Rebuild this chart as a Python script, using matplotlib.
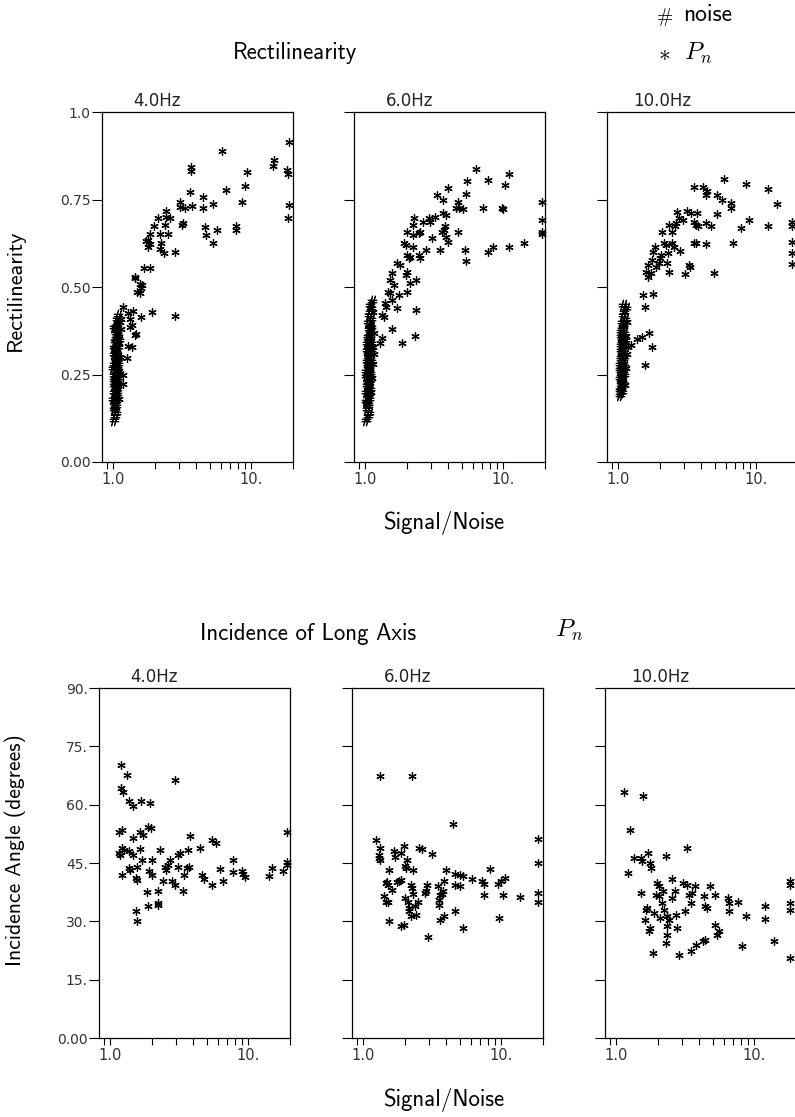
import matplotlib
matplotlib.use("Agg")
import matplotlib.pyplot as plt
from matplotlib.ticker import FixedLocator, NullFormatter

plt.rcParams['mathtext.fontset'] = 'cm'

freqs = ["4.0Hz", "6.0Hz", "10.0Hz"]
x_ticks = [1.0, 10.0]
x_tick_labels = ["1.0", "10."]
x_minor = [0.9, 2, 3, 4, 5, 6, 7, 8, 9, 20]
rect_ticks = [0.0, 0.25, 0.5, 0.75, 1.0]
rect_tick_labels = ["0.00", "0.25", "0.50", "0.75", "1.0"]
inc_ticks = [0, 15, 30, 45, 60, 75, 90]
inc_tick_labels = ["0.00", "15.", "30.", "45.", "60.", "75.", "90."]

# rectilinearity, noise windows (#)
rect_noise_4 = [(1.01,0.12),(1.03,0.13),(1.02,0.15),(1.05,0.14),(1.04,0.16),(1.02,0.17),(1.06,0.18),
                (1.03,0.19),(1.01,0.20),(1.05,0.20),(1.07,0.21),(1.02,0.22),(1.04,0.23),(1.06,0.23),
                (1.03,0.24),(1.08,0.25),(1.01,0.25),(1.05,0.26),(1.03,0.27),(1.07,0.27),(1.02,0.28),
                (1.05,0.29),(1.08,0.30),(1.03,0.30),(1.06,0.31),(1.04,0.32),(1.09,0.33),(1.02,0.33),
                (1.06,0.34),(1.04,0.35),(1.08,0.36),(1.05,0.37),(1.07,0.38),(1.04,0.39),(1.09,0.40),
                (1.06,0.41),(1.08,0.42),(1.05,0.215),(1.07,0.245),(1.04,0.285),(1.06,0.195),
                (1.03,0.345),(1.09,0.28),(1.02,0.31),(1.07,0.225),(1.00,0.18),(1.01,0.235),
                (1.00,0.27),(1.03,0.325),(1.05,0.355),(1.02,0.385),(1.07,0.33),(1.09,0.24),
                (1.04,0.175),(1.06,0.265),(1.08,0.295),(1.03,0.155),(1.06,0.375),(1.10,0.35)]
rect_noise_6 = [(1.02,0.12),(1.04,0.13),(1.03,0.15),(1.06,0.14),(1.05,0.16),(1.03,0.17),(1.07,0.18),
                (1.04,0.19),(1.02,0.20),(1.06,0.21),(1.08,0.21),(1.03,0.22),(1.05,0.23),(1.07,0.24),
                (1.04,0.25),(1.09,0.25),(1.02,0.26),(1.06,0.27),(1.04,0.28),(1.08,0.28),(1.03,0.29),
                (1.06,0.30),(1.09,0.31),(1.04,0.31),(1.07,0.32),(1.05,0.33),(1.10,0.34),(1.03,0.34),
                (1.07,0.35),(1.05,0.36),(1.09,0.37),(1.06,0.38),(1.08,0.39),(1.05,0.40),(1.10,0.41),
                (1.07,0.42),(1.09,0.43),(1.11,0.44),(1.08,0.45),(1.12,0.46),(1.06,0.225),(1.08,0.255),
                (1.05,0.295),(1.07,0.195),(1.04,0.355),(1.10,0.29),(1.03,0.32),(1.08,0.235),
                (1.06,0.265),(1.09,0.355),(1.02,0.175),(1.04,0.215),(1.02,0.245),(1.05,0.275),
                (1.08,0.325),(1.06,0.345),(1.10,0.385),(1.04,0.165),(1.07,0.305),(1.11,0.32)]
rect_noise_10 = [(1.03,0.19),(1.06,0.20),(1.04,0.21),(1.08,0.22),(1.05,0.23),(1.03,0.24),(1.07,0.24),
                 (1.10,0.25),(1.04,0.26),(1.08,0.27),(1.06,0.28),(1.03,0.28),(1.09,0.29),(1.05,0.30),
                 (1.11,0.30),(1.07,0.31),(1.04,0.32),(1.10,0.33),(1.06,0.34),(1.08,0.35),(1.05,0.36),
                 (1.11,0.37),(1.07,0.38),(1.09,0.39),(1.06,0.40),(1.12,0.41),(1.08,0.42),(1.10,0.43),
                 (1.13,0.44),(1.09,0.45),(1.05,0.245),(1.07,0.265),(1.09,0.315),(1.04,0.295),
                 (1.08,0.225),(1.12,0.35),(1.06,0.355),(1.10,0.275),(1.03,0.205),(1.05,0.215),
                 (1.04,0.335),(1.07,0.345),(1.09,0.255),(1.06,0.305),(1.08,0.385),(1.05,0.375),
                 (1.11,0.34),(1.03,0.265)]

# rectilinearity, P_n windows (*)
rect_pn_4 = [(18.7,0.914),(6.1,0.889),(3.64,0.843),(3.64,0.832),(14.3,0.845),(14.6,0.862),(9.3,0.830),
             (8.95,0.789),(8.6,0.744),(6.5,0.778),(18.0,0.833),(18.5,0.823),(18.7,0.735),(18.5,0.698),
             (3.58,0.771),(3.7,0.732),(4.48,0.757),(4.5,0.727),(5.28,0.738),(4.6,0.671),(4.7,0.649),
             (5.28,0.627),(5.65,0.663),(7.7,0.675),(7.7,0.663),(3.03,0.742),(3.06,0.730),(3.3,0.725),
             (3.2,0.682),(3.15,0.677),(2.79,0.601),(2.82,0.418),(2.43,0.716),(2.4,0.701),(2.57,0.698),
             (2.37,0.677),(2.5,0.652),(2.12,0.697),(2.17,0.652),(2.2,0.625),(2.17,0.608),(2.33,0.596),
             (1.97,0.673),(1.86,0.652),(1.79,0.635),(1.84,0.623),(1.79,0.614),(1.72,0.632),(1.67,0.553),
             (1.84,0.553),(1.43,0.527),(1.45,0.530),(1.56,0.510),(1.6,0.496),(1.56,0.482),(1.49,0.487),
             (1.62,0.506),(1.6,0.415),(1.92,0.429),(1.38,0.432),(1.17,0.444),(1.28,0.427),(1.32,0.410),
             (1.32,0.386),(1.36,0.391),(1.43,0.362),(1.47,0.367),(1.28,0.331),(1.36,0.329),(1.25,0.296),
             (1.18,0.248),(1.18,0.224),(1.10,0.26),(1.12,0.30),(1.11,0.34),(1.13,0.38),(1.09,0.22),
             (1.14,0.41),(1.10,0.18),(1.12,0.40)]
rect_pn_6 = [(6.3,0.838),(10.9,0.823),(7.7,0.806),(10.2,0.792),(5.43,0.804),(5.37,0.766),(3.94,0.782),
             (3.3,0.763),(3.64,0.749),(4.73,0.744),(4.8,0.725),(5.1,0.722),(4.55,0.725),(7.17,0.725),
             (9.7,0.725),(9.9,0.722),(18.9,0.744),(18.9,0.692),(18.9,0.658),(18.9,0.652),(14.2,0.627),
             (11.0,0.615),(8.47,0.615),(7.7,0.599),(5.3,0.606),(5.37,0.573),(4.73,0.658),(3.68,0.711),
             (3.85,0.706),(3.58,0.658),(3.72,0.663),(3.79,0.673),(3.85,0.644),(3.94,0.630),(3.49,0.606),
             (3.2,0.701),(2.9,0.697),(2.95,0.687),(2.64,0.687),(3.03,0.639),(2.74,0.606),(2.26,0.697),
             (2.23,0.677),(2.5,0.658),(2.43,0.653),(2.0,0.658),(2.23,0.649),(2.21,0.615),(1.91,0.625),
             (1.98,0.620),(2.02,0.592),(2.11,0.587),(2.09,0.582),(2.47,0.592),(2.5,0.582),(1.69,0.568),
             (1.79,0.563),(2.0,0.544),(1.98,0.534),(1.56,0.539),(1.52,0.520),(2.34,0.520),(2.11,0.511),
             (1.62,0.506),(1.47,0.487),(1.5,0.482),(2.02,0.487),(1.77,0.477),(1.56,0.463),(1.4,0.453),
             (1.42,0.444),(1.69,0.439),(2.34,0.434),(1.32,0.420),(1.36,0.415),(1.56,0.379),(2.3,0.361),
             (1.84,0.339),(1.32,0.353),(1.27,0.339),(1.12,0.24),(1.14,0.28),(1.13,0.33),(1.15,0.37),
             (1.11,0.20),(1.14,0.43),(1.16,0.31)]
rect_pn_10 = [(5.84,0.808),(8.47,0.794),(12.2,0.781),(14.2,0.738),(3.54,0.787),(4.11,0.787),(4.42,0.773),
              (4.3,0.763),(5.2,0.763),(5.6,0.749),(6.5,0.740),(6.6,0.725),(5.2,0.709),(8.85,0.692),
              (7.8,0.668),(12.2,0.673),(18.2,0.687),(18.2,0.673),(18.2,0.630),(18.2,0.596),(18.2,0.566),
              (6.8,0.627),(4.94,0.539),(4.3,0.682),(4.67,0.673),(4.3,0.623),(3.54,0.625),(3.64,0.627),
              (3.64,0.677),(3.8,0.675),(3.54,0.687),(3.17,0.716),(3.35,0.711),(3.73,0.711),(2.68,0.713),
              (2.76,0.697),(2.6,0.684),(2.92,0.692),(2.34,0.677),(2.44,0.658),(2.58,0.673),(2.09,0.658),
              (2.15,0.625),(2.21,0.620),(2.47,0.625),(2.54,0.615),(2.8,0.603),(2.31,0.596),(2.27,0.570),
              (2.34,0.544),(2.03,0.592),(2.0,0.582),(1.79,0.599),(1.85,0.615),(1.77,0.577),(1.98,0.568),
              (1.87,0.558),(1.63,0.563),(1.58,0.544),(1.72,0.539),(1.63,0.528),(3.26,0.563),(3.3,0.558),
              (3.05,0.537),(1.5,0.477),(1.79,0.480),(1.57,0.442),(1.67,0.369),(1.48,0.358),(1.36,0.351),
              (1.75,0.329),(1.56,0.277),(1.23,0.334),(1.13,0.27),(1.15,0.31),(1.14,0.36),(1.16,0.40),
              (1.12,0.22),(1.18,0.33)]

# incidence angle of long axis, P_n windows (*)
inc_pn_4 = [(1.19,70.3),(1.33,67.7),(1.19,64.3),(1.23,63.4),(1.36,60.9),(1.46,59.8),(1.67,61.0),(1.95,60.4),
            (2.95,66.4),(1.15,53.1),(1.21,53.6),(1.65,53.1),(1.89,54.3),(1.97,54.0),(1.72,52.3),(1.46,51.4),
            (1.15,47.6),(1.18,47.1),(1.21,48.9),(1.25,48.4),(1.36,48.0),(1.47,47.1),(1.65,48.6),(1.21,42.0),
            (1.36,43.7),(1.39,43.3),(1.54,41.1),(1.56,40.7),(1.56,44.0),(1.69,45.9),(2.0,45.9),(1.92,42.9),
            (2.0,42.0),(1.54,32.6),(1.56,30.0),(1.86,37.5),(1.89,33.9),(2.23,37.7),(2.23,34.7),(2.23,34.1),
            (2.3,48.4),(2.43,40.3),(2.5,44.1),(2.54,43.3),(2.6,44.6),(2.69,45.9),(2.79,40.3),(2.95,39.4),
            (3.12,47.1),(3.2,47.6),(3.12,44.1),(3.39,37.7),(3.42,42.0),(3.58,43.7),(3.74,44.1),(3.78,51.9),
            (3.68,48.4),(4.47,48.9),(4.6,42.0),(4.78,40.9),(5.43,39.4),(5.43,51.0),(5.83,50.1),(6.23,43.5),
            (6.6,40.3),(7.8,45.9),(7.8,42.6),(8.95,42.9),(9.1,42.3),(9.45,41.4),(14.2,41.7),(14.7,43.7),
            (17.9,42.9),(18.9,52.9),(19.1,45.2),(19.1,44.6)]
inc_pn_6 = [(1.33,67.3),(2.26,67.3),(4.45,55.1),(1.23,51.0),(1.33,48.9),(1.30,47.1),(1.31,46.3),(1.33,45.7),
            (1.67,48.0),(1.69,46.5),(1.89,47.7),(1.97,49.3),(2.08,45.9),(2.02,44.3),(2.05,43.7),(1.53,43.3),
            (2.28,43.1),(2.52,48.9),(2.67,48.6),(3.16,47.4),(1.45,39.9),(1.5,39.4),(1.49,40.0),(1.76,40.0),
            (1.83,40.3),(1.89,40.7),(1.62,38.0),(1.41,36.4),(1.45,35.1),(1.5,34.9),(1.53,30.0),(1.89,28.7),
            (1.97,29.1),(2.0,36.0),(2.2,39.4),(2.26,38.6),(2.28,37.1),(2.11,34.9),(2.14,33.4),(2.16,32.6),
            (2.2,31.3),(2.41,31.7),(2.5,34.9),(2.36,33.9),(2.9,39.4),(2.85,37.7),(2.82,37.3),(2.95,26.0),
            (3.49,39.0),(3.62,36.9),(3.53,35.6),(3.77,37.9),(3.72,37.1),(3.83,40.3),(3.56,34.3),(3.83,31.3),
            (3.62,30.4),(3.94,43.3),(4.6,42.3),(5.05,42.0),(5.25,41.6),(4.65,39.4),(5.05,39.0),(4.6,32.6),
            (5.25,28.3),(6.1,40.9),(7.25,40.3),(7.44,39.6),(7.44,36.9),(8.33,43.5),(9.47,39.6),(10.0,40.5),
            (10.6,41.1),(10.3,36.9),(9.6,30.9),(13.7,36.3),(18.4,51.2),(18.4,45.0),(18.4,37.3),(18.4,34.9)]
inc_pn_10 = [(1.14,63.2),(1.56,62.3),(1.25,53.4),(3.26,48.9),(1.34,46.3),(1.5,46.3),(1.54,45.4),(1.7,47.6),
             (1.77,45.0),(1.8,43.7),(2.3,46.7),(1.22,42.4),(1.5,37.3),(1.63,33.0),(1.67,33.4),(1.61,30.4),
             (1.77,28.3),(1.74,27.4),(1.87,32.1),(1.98,39.9),(2.03,39.0),(1.95,36.9),(2.03,36.4),(2.17,37.7),
             (2.15,34.7),(2.21,33.0),(2.09,30.9),(2.34,31.3),(2.4,30.4),(2.34,28.7),(2.34,26.6),(2.3,24.4),
             (2.54,40.9),(2.54,36.0),(2.68,37.7),(2.71,31.7),(2.76,28.3),(3.03,39.9),(3.26,39.4),(3.74,39.0),
             (3.35,36.9),(3.55,37.3),(3.5,34.7),(3.13,32.6),(4.3,36.4),(4.38,33.9),(4.55,33.4),(4.8,39.0),
             (5.2,36.9),(5.2,29.1),(5.5,27.4),(5.37,26.6),(4.23,24.9),(4.38,25.3),(3.79,24.0),(3.45,22.3),
             (2.84,21.4),(1.84,21.9),(6.45,36.0),(6.6,34.7),(6.6,32.6),(7.6,35.1),(8.7,31.5),(8.15,23.6),
             (12.0,33.9),(12.0,30.6),(13.8,24.9),(18.2,40.3),(18.2,39.4),(18.2,34.7),(18.2,33.0),(18.2,20.6)]

fig = plt.figure(figsize=(7.95, 11.17), dpi=100)

top_lefts = [0.1283, 0.4453, 0.7635]
bot_lefts = [0.1245, 0.4428, 0.7610]
width = 0.2403
height = 0.3133

star = (6, 2, 0)


def setup_axes(ax, title, yticks, ylabels, show_ylabels):
    ax.set_xscale('log')
    ax.set_xlim(0.83, 20)
    ax.xaxis.set_major_locator(FixedLocator(x_ticks))
    ax.set_xticklabels(x_tick_labels)
    ax.xaxis.set_minor_locator(FixedLocator(x_minor))
    ax.xaxis.set_minor_formatter(NullFormatter())
    ax.set_yticks(yticks)
    if show_ylabels:
        ax.set_yticklabels(ylabels)
    else:
        ax.set_yticklabels([])
    ax.tick_params(axis='x', which='both', direction='out', length=5, width=0.8,
                   labelsize=10.5, pad=2, top=False, labelcolor='#333333')
    ax.tick_params(axis='y', direction='out', length=7, width=0.8, labelsize=10,
                   pad=1, right=False, labelcolor='#333333')
    for s in ax.spines.values():
        s.set_linewidth(0.9)
    ax.text(0.29, 1.006, title, transform=ax.transAxes, ha='center', va='bottom',
            fontsize=12, color='#222222')


def draw(ax, pts, marker, ms, mew):
    xs = [p[0] for p in pts]
    ys = [p[1] for p in pts]
    ax.plot(xs, ys, ls='none', marker=marker, ms=ms, mew=mew, color='black', clip_on=False)


noise_sets = [rect_noise_4, rect_noise_6, rect_noise_10]
rect_sets = [rect_pn_4, rect_pn_6, rect_pn_10]
inc_sets = [inc_pn_4, inc_pn_6, inc_pn_10]

for i in range(3):
    ax = fig.add_axes([top_lefts[i], 0.5864, width, height])
    setup_axes(ax, freqs[i], rect_ticks, rect_tick_labels, i == 0)
    ax.set_ylim(0, 1.0)
    draw(ax, noise_sets[i], '$\\#$', 8, 0.6)
    draw(ax, rect_sets[i], star, 6, 0.9)

    ax2 = fig.add_axes([bot_lefts[i], 0.0707, width, height])
    setup_axes(ax2, freqs[i], inc_ticks, inc_tick_labels, i == 0)
    ax2.set_ylim(0, 90)
    draw(ax2, inc_sets[i], star, 6, 0.9)

cm = 'cmss10'
fig.text(295 / 795, 1 - 53 / 1117, "Rectilinearity", ha='center', va='center', fontsize=16.5, family=cm)
fig.text(665 / 795, 1 - 17 / 1117, "$\\#$", ha='center', va='center', fontsize=14)
fig.text(683 / 795, 1 - 15 / 1117, "noise", ha='left', va='center', fontsize=17, family=cm)
fig.text(664 / 795, 1 - 53 / 1117, "$*$", ha='center', va='center', fontsize=17)
fig.text(684 / 795, 1 - 53 / 1117, "$P_n$", ha='left', va='center', fontsize=18)
fig.text(444 / 795, 1 - 523 / 1117, "Signal/Noise", ha='center', va='center', fontsize=16.5, family=cm)
fig.text(15 / 795, 1 - 290 / 1117, "Rectilinearity", ha='center', va='center', rotation=90,
         fontsize=16, family=cm)

fig.text(308 / 795, 1 - 634 / 1117, "Incidence of Long Axis", ha='center', va='center', fontsize=16.5, family=cm)
fig.text(555 / 795, 1 - 630 / 1117, "$P_n$", ha='left', va='center', fontsize=18)
fig.text(444 / 795, 1 - 1100 / 1117, "Signal/Noise", ha='center', va='center', fontsize=16.5, family=cm)
fig.text(15 / 795, 1 - 850 / 1117, "Incidence Angle (degrees)", ha='center', va='center', rotation=90,
         fontsize=15.5, family=cm)

fig.savefig("out.png", dpi=100)
